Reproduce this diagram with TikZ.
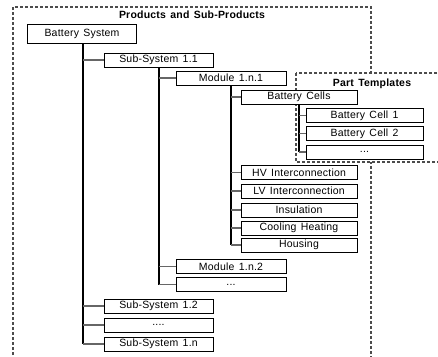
\documentclass[tikz,border=0pt]{standalone}
\usepackage{fontspec}
\setmainfont[LetterSpace=2,WordSpace=1.4]{Liberation Sans}
\begin{document}
\begin{tikzpicture}[x=1pt,y=-1pt,
  box/.style={draw=black,line width=0.8pt,fill=white,minimum height=14pt,inner sep=0pt,
    font=\fontsize{10.5}{12}\selectfont},
  subbox/.style={box,minimum width=109pt},
  modbox/.style={box,minimum width=110pt},
  partbox/.style={box,minimum width=116pt},
  cellbox/.style={box,minimum width=117pt},
  rootbox/.style={box,line width=1.8pt,minimum width=109pt,minimum height=19pt},
  trunk/.style={draw=black,line width=1.3pt},
  branch/.style={draw=black!60,line width=1.3pt},
  frame/.style={draw=black!70,line width=1.1pt,dash pattern=on 3pt off 2pt},
  title/.style={font=\bfseries\fontsize{10.5}{12}\selectfont,inner sep=0pt}
]
\useasboundingbox (0,0) rectangle (438,356);
\clip (0,0) rectangle (438,356);
% outer frame
\draw[frame] (13,360) -- (13,7) -- (371,7) -- (371,360);
\node[title] (t1) at (192,15) {Products and Sub-Products};
% part templates frame
\filldraw[frame,fill=white] (296,73) rectangle (450,162);
\node[title] (t2) at (372,84) {Part Templates};
% nodes
\node[rootbox] (bs) at (82,34) {Battery System};
\node[subbox] (s11) at (158.5,60) {Sub-System 1.1};
\node[subbox] (s12) at (158.5,306) {Sub-System 1.2};
\node[subbox] (sd) at (158.5,325) {....};
\node[subbox] (s1n) at (158.5,344) {Sub-System 1.n};
\node[modbox] (m1) at (231,78) {Module 1.n.1};
\node[modbox] (m2) at (231,266.5) {Module 1.n.2};
\node[modbox] (md) at (231,284.5) {...};
\node[partbox] (bc) at (299,97) {Battery Cells};
\node[partbox] (hv) at (299,172.5) {HV Interconnection};
\node[partbox] (lv) at (299,191) {LV Interconnection};
\node[partbox] (ins) at (299,210) {Insulation};
\node[partbox] (ch) at (299,228) {Cooling Heating};
\node[partbox] (hs) at (299,245) {Housing};
\node[cellbox] (c1) at (364.5,115.5) {Battery Cell 1};
\node[cellbox] (c2) at (364.5,133.5) {Battery Cell 2};
\node[cellbox] (cd) at (364.5,152) {...};
% trunks
\coordinate (t1top) at ([xshift=1pt]bs.south);
\draw[trunk] (t1top) -- (t1top |- s1n.west);
\coordinate (t2top) at ([xshift=0.5pt]s11.south);
\draw[trunk] (t2top) -- (t2top |- md.west);
\draw[trunk] (m1.south) -- (m1.south |- hs.west);
\draw[trunk] (bc.south) -- (bc.south |- cd.west);
% branches
\foreach \n in {s11,s12,sd,s1n} \draw[branch] (t1top |- \n.west) -- (\n.west);
\foreach \n in {m1,m2,md} \draw[branch] (t2top |- \n.west) -- (\n.west);
\foreach \n in {bc,hv,lv,ins,ch,hs} \draw[branch] (m1.south |- \n.west) -- (\n.west);
\foreach \n in {c1,c2,cd} \draw[branch] (bc.south |- \n.west) -- (\n.west);
\end{tikzpicture}
\end{document}
